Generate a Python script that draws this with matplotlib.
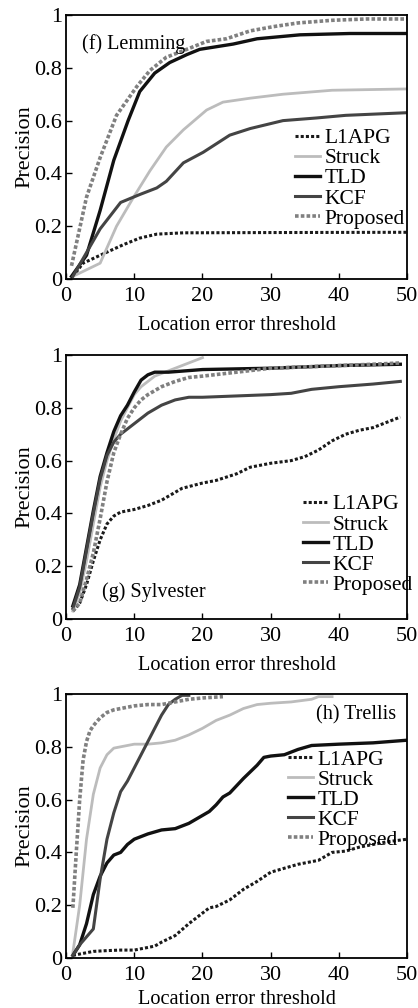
import numpy as np
import matplotlib
matplotlib.use('Agg')
import matplotlib.pyplot as plt

plt.rcParams['font.family'] = ['Liberation Serif', 'DejaVu Serif']
plt.rcParams['font.size'] = 15

# ---- (f) Lemming ----
f_prop_x = [0.8, 3, 5, 7.4, 10.4, 12.3, 14.7, 17.7, 20.6, 23.5, 27, 30.4, 34, 39, 44, 50]
f_prop_y = [0.05, 0.31, 0.46, 0.62, 0.73, 0.79, 0.84, 0.87, 0.90, 0.91, 0.94, 0.956, 0.97, 0.98, 0.985, 0.985]
f_tld_x = [0.8, 3, 5, 7, 9.1, 10.8, 13, 15.2, 17.7, 19.6, 24.5, 28, 34.3, 41.6, 50]
f_tld_y = [0.01, 0.09, 0.26, 0.45, 0.60, 0.71, 0.78, 0.82, 0.85, 0.87, 0.89, 0.91, 0.925, 0.93, 0.93]
f_str_x = [1, 5, 7.4, 9.9, 12.3, 14.7, 17.2, 20.6, 23, 27, 31.8, 39, 50]
f_str_y = [0.01, 0.06, 0.20, 0.31, 0.41, 0.50, 0.565, 0.64, 0.67, 0.685, 0.70, 0.715, 0.72]
f_kcf_x = [1, 3, 5, 8, 10.8, 13.3, 14.7, 17.2, 20.1, 24, 27, 31.8, 36.7, 41, 50]
f_kcf_y = [0.01, 0.10, 0.19, 0.29, 0.32, 0.345, 0.37, 0.44, 0.48, 0.545, 0.57, 0.60, 0.61, 0.62, 0.63]
f_l1_x = [1, 2.5, 5, 8.4, 10.8, 13.3, 17.2, 30, 50]
f_l1_y = [0.01, 0.06, 0.09, 0.13, 0.155, 0.17, 0.175, 0.176, 0.177]

# ---- (g) Sylvester ----
g_tld_x = [1, 2, 3, 4, 5, 6, 7, 8, 9, 10, 11, 12, 13, 15, 20, 30, 40, 49]
g_tld_y = [0.05, 0.13, 0.27, 0.41, 0.54, 0.63, 0.71, 0.77, 0.81, 0.86, 0.905, 0.925, 0.935, 0.935, 0.945, 0.95, 0.96, 0.965]
g_str_x = [1, 2, 3, 4, 5, 6, 7, 8, 9, 10, 11, 12, 13, 14, 15, 17, 19, 20]
g_str_y = [0.03, 0.10, 0.22, 0.36, 0.50, 0.60, 0.68, 0.75, 0.80, 0.85, 0.88, 0.90, 0.92, 0.93, 0.94, 0.96, 0.98, 0.99]
g_kcf_x = [1, 2, 3, 4, 5, 6, 7, 8, 9, 10, 12, 14, 16, 18, 20, 25, 30, 33, 36, 40, 45, 49]
g_kcf_y = [0.04, 0.12, 0.26, 0.40, 0.53, 0.62, 0.67, 0.70, 0.72, 0.74, 0.78, 0.81, 0.83, 0.84, 0.84, 0.845, 0.85, 0.855, 0.87, 0.88, 0.89, 0.90]
g_prop_x = [1, 2, 3, 4, 5, 6, 7, 8, 9, 10, 11, 12, 14, 16, 18, 20, 25, 30, 35, 40, 45, 49]
g_prop_y = [0.03, 0.06, 0.15, 0.25, 0.38, 0.52, 0.63, 0.70, 0.76, 0.80, 0.83, 0.85, 0.88, 0.90, 0.915, 0.92, 0.935, 0.95, 0.955, 0.96, 0.965, 0.97]
g_l1_x = [1, 2, 3, 4, 5, 6, 7, 8, 10, 12, 14, 16, 17, 20, 22, 25, 27, 30, 33, 35, 37, 39, 41, 43, 45, 47, 49]
g_l1_y = [0.03, 0.06, 0.13, 0.22, 0.30, 0.36, 0.39, 0.405, 0.415, 0.43, 0.45, 0.48, 0.495, 0.515, 0.525, 0.55, 0.575, 0.59, 0.60, 0.615, 0.64, 0.675, 0.70, 0.715, 0.725, 0.745, 0.765]

# ---- (h) Trellis ----
h_prop_x = [1, 1.5, 2, 2.5, 3, 3.5, 4, 5, 6, 7, 8, 10, 12, 14, 16, 18, 20, 23]
h_prop_y = [0.19, 0.40, 0.60, 0.75, 0.82, 0.86, 0.88, 0.91, 0.93, 0.94, 0.945, 0.955, 0.96, 0.96, 0.97, 0.98, 0.985, 0.99]
h_str_x = [1, 2, 3, 4, 5, 6, 7, 8, 10, 12, 14, 16, 18, 20, 22, 24, 26, 28, 30, 33, 36, 37, 39]
h_str_y = [0.02, 0.20, 0.45, 0.62, 0.72, 0.77, 0.795, 0.80, 0.81, 0.81, 0.815, 0.825, 0.845, 0.87, 0.90, 0.92, 0.945, 0.96, 0.965, 0.97, 0.98, 0.99, 0.99]
h_kcf_x = [1, 2, 3, 4, 5, 6, 7, 8, 9, 10, 11, 12, 13, 14, 15, 16, 17, 18]
h_kcf_y = [0.01, 0.05, 0.08, 0.11, 0.30, 0.45, 0.55, 0.63, 0.67, 0.72, 0.77, 0.82, 0.87, 0.92, 0.96, 0.98, 0.995, 0.995]
h_tld_x = [1, 2, 3, 4, 5, 6, 7, 8, 9, 10, 12, 14, 16, 18, 20, 21, 22, 23, 24, 26, 28, 29, 30, 32, 34, 36, 40, 45, 50]
h_tld_y = [0.01, 0.05, 0.13, 0.24, 0.31, 0.36, 0.39, 0.40, 0.43, 0.45, 0.47, 0.485, 0.49, 0.51, 0.54, 0.555, 0.58, 0.61, 0.625, 0.68, 0.73, 0.76, 0.765, 0.77, 0.79, 0.805, 0.81, 0.815, 0.825]
h_l1_x = [1, 2, 4, 6, 8, 10, 12, 13, 14, 16, 18, 20, 21, 22, 24, 26, 28, 30, 32, 34, 36, 37, 39, 41, 43, 45, 47, 50]
h_l1_y = [0.01, 0.015, 0.025, 0.028, 0.03, 0.03, 0.04, 0.045, 0.06, 0.085, 0.13, 0.17, 0.19, 0.195, 0.22, 0.26, 0.29, 0.325, 0.34, 0.355, 0.365, 0.37, 0.40, 0.405, 0.42, 0.43, 0.44, 0.45]

names = ['L1APG', 'Struck', 'TLD', 'KCF', 'Proposed']
styles = {
    'L1APG': dict(color='#1a1a1a', lw=2.2, ls=(0, (1, 0.7))),
    'Struck': dict(color='#bcbcbc', lw=2.0, ls='-'),
    'TLD': dict(color='#111111', lw=2.4, ls='-'),
    'KCF': dict(color='#444444', lw=2.2, ls='-'),
    'Proposed': dict(color='#808080', lw=2.6, ls=(0, (1, 0.6))),
}

panels = [
    ('(f) Lemming', (2.3, 0.89),
     {'L1APG': (f_l1_x, f_l1_y), 'Struck': (f_str_x, f_str_y), 'TLD': (f_tld_x, f_tld_y),
      'KCF': (f_kcf_x, f_kcf_y), 'Proposed': (f_prop_x, f_prop_y)}, (0.672, 0.571)),
    ('(g) Sylvester', (5.3, 0.10),
     {'L1APG': (g_l1_x, g_l1_y), 'Struck': (g_str_x, g_str_y), 'TLD': (g_tld_x, g_tld_y),
      'KCF': (g_kcf_x, g_kcf_y), 'Proposed': (g_prop_x, g_prop_y)}, (0.695, 0.472)),
    ('(h) Trellis', (36.6, 0.92),
     {'L1APG': (h_l1_x, h_l1_y), 'Struck': (h_str_x, h_str_y), 'TLD': (h_tld_x, h_tld_y),
      'KCF': (h_kcf_x, h_kcf_y), 'Proposed': (h_prop_x, h_prop_y)}, (0.651, 0.79)),
]

fig = plt.figure(figsize=(4.18, 10.08), dpi=100)
bottoms = [0.7232, 0.3859, 0.0496]
xlabel_pads = [7, 7, 3.5]

for (title, tpos, data, legpos), b, lp in zip(panels, bottoms, xlabel_pads):
    ax = fig.add_axes([0.158, b, 0.816, 0.2619])
    for n in names:
        x, y = data[n]
        ax.plot(x, y, label=n, **styles[n])
    ax.set_xlim(0, 50)
    ax.set_ylim(0, 1)
    ax.set_xticks([0, 10, 20, 30, 40, 50])
    ax.set_yticks([0, 0.2, 0.4, 0.6, 0.8, 1])
    ax.set_yticklabels(['0', '0.2', '0.4', '0.6', '0.8', '1'])
    ax.tick_params(direction='in', length=4, width=1, labelsize=16, pad=3)
    ax.tick_params(axis='x', pad=6)
    for s in ax.spines.values():
        s.set_linewidth(1.3)
    ax.set_xlabel('Location error threshold', fontsize=14.7, labelpad=lp)
    ax.set_ylabel('Precision', fontsize=16, labelpad=0)
    ax.text(tpos[0], tpos[1], title, ha='left', va='center', fontsize=14.5)
    ax.legend(loc='upper left', bbox_to_anchor=legpos, frameon=False, fontsize=15.5,
              handlelength=1.16, handletextpad=0.2, labelspacing=0.0, borderpad=0,
              borderaxespad=0)

fig.savefig('out.png', dpi=100)
